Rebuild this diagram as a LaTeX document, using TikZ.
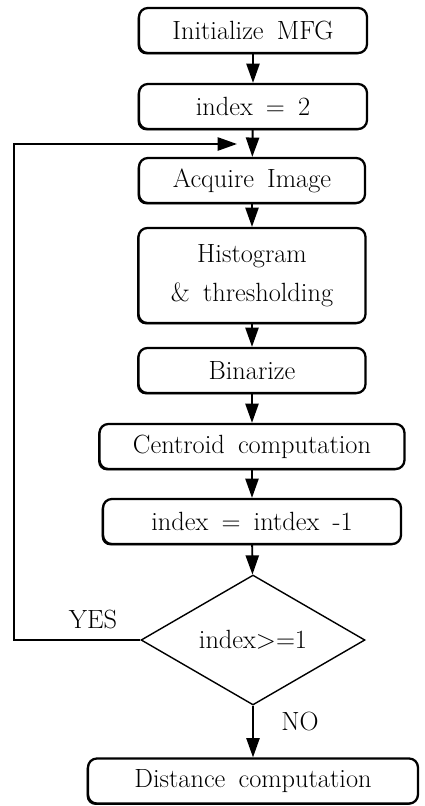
\documentclass[tikz,border=0pt]{standalone}
\usepackage{tikz}
\usetikzlibrary{arrows.meta,positioning,shapes.geometric,shadows}
\newcommand{\stepfont}{\fontsize{15}{22}\selectfont\spaceskip=0.5em\relax}

\begin{document}
\begin{tikzpicture}[x=0.02cm,y=-0.02cm,
    procbox/.style={draw,line width=1.3pt,rounded corners=5pt,fill=white,
      minimum height=0.9cm,inner sep=2pt,font=\stepfont,
      drop shadow={shadow xshift=-0.8pt,shadow yshift=-0.8pt,opacity=1,fill=black}},
    testbox/.style={draw,diamond,aspect=1.7,line width=0.8pt,inner sep=0pt,
      minimum width=4.48cm,minimum height=2.6cm,font=\fontsize{15}{18}\selectfont},
    flow/.style={line width=1.1pt,-{Triangle[length=11pt,width=7.5pt]}},
    tag/.style={font=\fontsize{15}{18}\selectfont}]
  \useasboundingbox (0,0) rectangle (425,806);
  % steps
  \node[procbox,minimum width=4.56cm] (init) at (253,30.5) {Initialize MFG};
  \node[procbox,minimum width=4.56cm] (idx) at (253,106.5) {index = 2};
  \node[procbox,minimum width=4.52cm] (acq) at (252,180.5) {Acquire Image};
  \node[procbox,minimum width=4.54cm,minimum height=1.9cm,align=center] (hist) at (252,275.5) {Histogram\\\& thresholding};
  \node[procbox,minimum width=4.54cm] (bin) at (252,370.5) {Binarize};
  \node[procbox,minimum width=6.1cm] (cent) at (252,446.5) {Centroid computation};
  \node[procbox,minimum width=5.96cm] (dec) at (252,521.5) {index = intdex -1};
  \node[testbox] (test) at (253,640) {index>=1};
  \node[procbox,minimum width=6.6cm] (dist) at (253,781) {Distance computation};
  % arrows down
  \draw[flow] (init) -- (idx);
  \draw[flow] (idx) -- (acq);
  \draw[flow] (acq) -- (hist);
  \draw[flow] (hist) -- (bin);
  \draw[flow] (bin) -- (cent);
  \draw[flow] (cent) -- (dec);
  \draw[flow] (dec) -- (test);
  \draw[flow] (test) -- (dist);
  % loop back
  \coordinate (loopin) at (237,144);
  \draw[flow] (test.west) -- ++(-126,0) |- (loopin);
  % branch labels
  \node[tag] (yes) at (93,619) {YES};
  \node[tag] (no) at (300,721) {NO};
\end{tikzpicture}
\end{document}
